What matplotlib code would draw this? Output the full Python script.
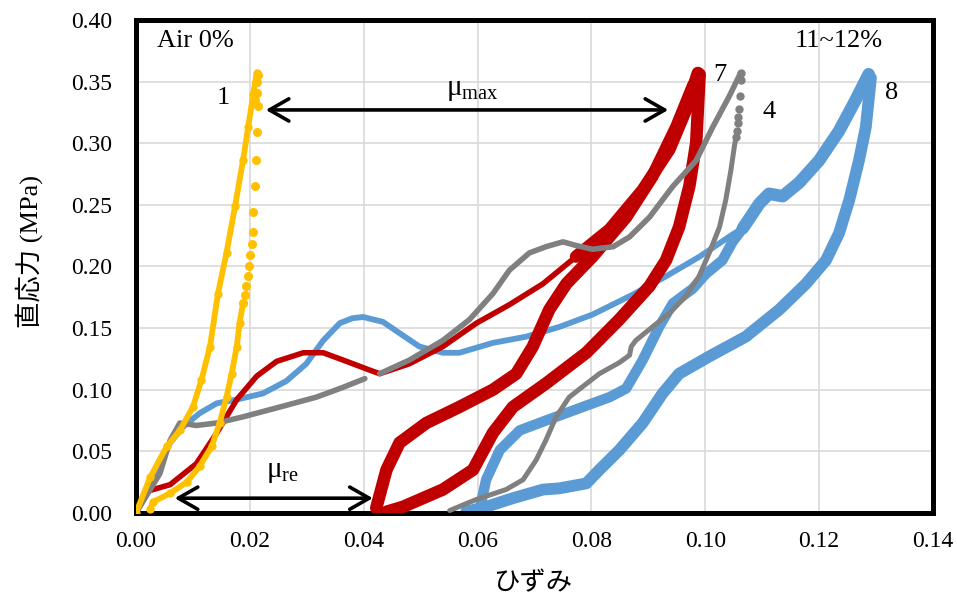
import matplotlib
matplotlib.use("Agg")
import matplotlib.pyplot as plt

plt.rcParams['font.family'] = ['Liberation Serif', 'Noto Sans CJK JP']
plt.rcParams['mathtext.fontset'] = 'custom'
plt.rcParams['mathtext.rm'] = 'Liberation Serif'
plt.rcParams['lines.solid_joinstyle'] = 'round'
plt.rcParams['lines.solid_capstyle'] = 'round'

# specimen 1 (Air 0%)
s1_load_x = [0.0, 0.0025, 0.0054, 0.0077, 0.0100, 0.0115, 0.0130, 0.0144, 0.0159, 0.0174, 0.0188, 0.0197, 0.0206, 0.0212]
s1_load_y = [0.0, 0.029, 0.054, 0.067, 0.086, 0.108, 0.135, 0.178, 0.211, 0.249, 0.286, 0.313, 0.340, 0.357]
s1_dots_x = [0.0215, 0.0213, 0.0212, 0.0209, 0.0215, 0.0213, 0.0211, 0.0209, 0.0206, 0.0205, 0.0203, 0.0201, 0.0199, 0.0196, 0.0194, 0.0191, 0.0188]
s1_dots_y = [0.355, 0.350, 0.341, 0.335, 0.330, 0.309, 0.286, 0.265, 0.244, 0.228, 0.218, 0.209, 0.200, 0.192, 0.184, 0.177, 0.170]
s1_unload_x = [0.0188, 0.0182, 0.0177, 0.0168, 0.0159, 0.0147, 0.0133, 0.0112, 0.0089, 0.0060, 0.0030, 0.0025]
s1_unload_y = [0.170, 0.154, 0.135, 0.113, 0.094, 0.073, 0.054, 0.038, 0.025, 0.016, 0.009, 0.003]

# specimen 7
s7_load_x = [0.0015, 0.0060, 0.0106, 0.0142, 0.0177, 0.0212, 0.0247, 0.0294, 0.0329, 0.0370, 0.0410, 0.0428, 0.0480,
             0.0539, 0.0598, 0.0656, 0.0715, 0.0773]
s7_load_y = [0.017, 0.023, 0.040, 0.065, 0.092, 0.111, 0.123, 0.130, 0.130, 0.123, 0.116, 0.113, 0.121,
             0.135, 0.154, 0.169, 0.186, 0.208]
s7_top_x = [0.0773, 0.0832, 0.0890, 0.0937, 0.0966, 0.0987]
s7_top_y = [0.208, 0.230, 0.262, 0.295, 0.327, 0.357]
s7_unload_x = [0.0990, 0.0984, 0.0972, 0.0954, 0.0931, 0.0902, 0.0849, 0.0791, 0.0720, 0.0662, 0.0627, 0.0592, 0.0539, 0.0469, 0.0440]
s7_unload_y = [0.355, 0.300, 0.265, 0.232, 0.205, 0.184, 0.157, 0.130, 0.105, 0.086, 0.065, 0.035, 0.019, 0.005, 0.001]
s7_reload_x = [0.0422, 0.0440, 0.0463, 0.0510, 0.0568, 0.0627, 0.0668, 0.0697, 0.0726, 0.0756, 0.0802, 0.0861, 0.0907, 0.0949, 0.0978, 0.0990]
s7_reload_y = [0.004, 0.035, 0.057, 0.073, 0.086, 0.100, 0.113, 0.135, 0.165, 0.186, 0.208, 0.240, 0.273, 0.313, 0.346, 0.356]

# specimen 4
s4_load1_x = [0.0, 0.0042, 0.0060, 0.0077, 0.0106, 0.0142, 0.0188, 0.0253, 0.0317, 0.0364, 0.0402]
s4_load1_y = [0.0, 0.032, 0.059, 0.073, 0.071, 0.073, 0.078, 0.086, 0.094, 0.102, 0.109]
s4_load2_x = [0.0428, 0.0480, 0.0539, 0.0586, 0.0627, 0.0656, 0.0691, 0.0720, 0.0750, 0.0773, 0.0802, 0.0838,
              0.0867, 0.0902, 0.0943, 0.0984, 0.1013, 0.1042, 0.1062]
s4_load2_y = [0.113, 0.124, 0.140, 0.157, 0.178, 0.197, 0.211, 0.216, 0.220, 0.217, 0.214, 0.216,
              0.224, 0.240, 0.265, 0.286, 0.313, 0.338, 0.357]
s4_dots_x = [0.1063, 0.1063, 0.1061, 0.1060, 0.1058, 0.1057, 0.1055, 0.1054]
s4_dots_y = [0.357, 0.351, 0.338, 0.328, 0.321, 0.316, 0.310, 0.305]
s4_unload_x = [0.1054, 0.1051, 0.1045, 0.1036, 0.1025, 0.1007, 0.0989, 0.0966, 0.0937, 0.0902, 0.0878, 0.0870, 0.0867,
               0.0849, 0.0814, 0.0761, 0.0738, 0.0720, 0.0703, 0.0680, 0.0650, 0.0598, 0.0551]
s4_unload_y = [0.305, 0.297, 0.278, 0.254, 0.232, 0.211, 0.192, 0.176, 0.162, 0.149, 0.140, 0.135, 0.128,
               0.122, 0.113, 0.094, 0.078, 0.059, 0.043, 0.027, 0.019, 0.011, 0.002]

# specimen 8
s8_load_x = [0.0, 0.0036, 0.0060, 0.0083, 0.0112, 0.0142, 0.0177, 0.0223, 0.0264, 0.0299, 0.0329, 0.0358, 0.0380, 0.0399,
             0.0434, 0.0469, 0.0498, 0.0539, 0.0568, 0.0627, 0.0685, 0.0744, 0.0802, 0.0872, 0.0931, 0.0990, 0.1048, 0.1066]
s8_load_y = [0.0, 0.035, 0.057, 0.070, 0.081, 0.089, 0.092, 0.097, 0.107, 0.121, 0.140, 0.154, 0.158, 0.159,
             0.155, 0.144, 0.135, 0.130, 0.130, 0.138, 0.143, 0.151, 0.161, 0.177, 0.192, 0.208, 0.226, 0.231]
s8_top_x = [0.1066, 0.1095, 0.1112, 0.1136, 0.1165, 0.1200, 0.1235, 0.1264, 0.1287]
s8_top_y = [0.231, 0.251, 0.259, 0.257, 0.268, 0.286, 0.310, 0.335, 0.356]
s8_unload_x = [0.1291, 0.1282, 0.1270, 0.1253, 0.1235, 0.1212, 0.1177, 0.1130, 0.1071, 0.1007, 0.0954, 0.0925,
               0.0890, 0.0849, 0.0814, 0.0791, 0.0744, 0.0715, 0.0662, 0.0615, 0.0580]
s8_unload_y = [0.353, 0.313, 0.286, 0.254, 0.227, 0.205, 0.186, 0.165, 0.143, 0.127, 0.113, 0.097,
               0.073, 0.051, 0.035, 0.024, 0.020, 0.019, 0.012, 0.005, 0.001]
s8_reload_x = [0.0604, 0.0615, 0.0639, 0.0674, 0.0720, 0.0773, 0.0832, 0.0861, 0.0890, 0.0919, 0.0943, 0.0978,
               0.1001, 0.1030, 0.1048, 0.1066]
s8_reload_y = [0.003, 0.027, 0.051, 0.067, 0.075, 0.084, 0.094, 0.101, 0.124, 0.151, 0.170, 0.182,
               0.194, 0.205, 0.220, 0.231]

gold = '#FFC000'
red = '#C00000'
gray = '#808080'
blue = '#5B9BD5'

fig = plt.figure(figsize=(9.57, 6.05), dpi=100)
ax = fig.add_axes([0.1421, 0.1521, 0.8328, 0.8149])

# blue loops
ax.plot(s8_load_x, s8_load_y, color=blue, lw=4.2, zorder=2)
ax.plot(s8_reload_x, s8_reload_y, color=blue, lw=7.5, zorder=2)
ax.plot(s8_unload_x, s8_unload_y, color=blue, lw=8.5, zorder=2)
ax.plot(s8_top_x, s8_top_y, color=blue, lw=9, zorder=2)

# red loops
ax.plot(s7_load_x, s7_load_y, color=red, lw=4, zorder=3)
ax.plot(s7_top_x, s7_top_y, color=red, lw=9, zorder=3)
ax.plot(s7_unload_x, s7_unload_y, color=red, lw=9, zorder=3)
ax.plot(s7_reload_x, s7_reload_y, color=red, lw=9, zorder=3)

# gray curve
ax.plot(s4_load1_x, s4_load1_y, color=gray, lw=4, zorder=4)
ax.plot(s4_load2_x, s4_load2_y, color=gray, lw=4, zorder=4)
ax.plot(s4_unload_x, s4_unload_y, color=gray, lw=3.6, zorder=4)
ax.plot(s4_dots_x, s4_dots_y, 'o', color=gray, ms=5, zorder=4)

# yellow curve
ax.plot(s1_load_x, s1_load_y, color=gold, lw=4.2, marker='o', ms=5, zorder=5)
ax.plot(s1_unload_x, s1_unload_y, color=gold, lw=4.2, marker='o', ms=5, zorder=5)
ax.plot(s1_dots_x, s1_dots_y, 'o', color=gold, ms=5.5, zorder=5)

ax.set_xlim(0, 0.14)
ax.set_ylim(0, 0.40)
ax.set_xticks([0.00, 0.02, 0.04, 0.06, 0.08, 0.10, 0.12, 0.14])
ax.set_yticks([0.00, 0.05, 0.10, 0.15, 0.20, 0.25, 0.30, 0.35, 0.40])
ax.xaxis.set_major_formatter(matplotlib.ticker.FormatStrFormatter('%.2f'))
ax.yaxis.set_major_formatter(matplotlib.ticker.FormatStrFormatter('%.2f'))
ax.tick_params(length=0, labelsize=17)
ax.tick_params(axis='y', pad=17)
ax.tick_params(axis='x', pad=13)
ax.grid(True, color='#D9D9D9', lw=1.2, zorder=0)
ax.set_axisbelow(True)
for sp in ax.spines.values():
    sp.set_linewidth(3.6)
    sp.set_color('black')

ax.set_xlabel('ひずみ', fontsize=19, family=['Noto Sans CJK JP'])
ax.set_ylabel('直応力 (MPa)', fontsize=19, family=['Liberation Serif', 'Noto Sans CJK JP'])
ax.yaxis.set_label_coords(-0.117, 0.531)
ax.xaxis.set_label_coords(0.498, -0.115)

# annotations
ax.text(0.0037, 0.383, 'Air 0%', fontsize=19, va='center', ha='left')
ax.text(0.1235, 0.383, '11~12%', fontsize=19, va='center', ha='center')
ax.text(0.0154, 0.337, '1', fontsize=19, va='center', ha='center')
ax.text(0.1025, 0.355, '7', fontsize=19, va='center', ha='center')
ax.text(0.1112, 0.325, '4', fontsize=19, va='center', ha='center')
ax.text(0.1328, 0.341, '8', fontsize=19, va='center', ha='center')

ax.annotate('', xy=(0.0935, 0.327), xytext=(0.0228, 0.327),
            arrowprops=dict(arrowstyle='<->,head_length=0.7,head_width=0.4', lw=2.6, color='black',
                            shrinkA=0, shrinkB=0, mutation_scale=20), zorder=6)
ax.annotate('', xy=(0.0416, 0.012), xytext=(0.0068, 0.012),
            arrowprops=dict(arrowstyle='<->,head_length=0.7,head_width=0.4', lw=2.6, color='black',
                            shrinkA=0, shrinkB=0, mutation_scale=20), zorder=6)
ax.text(0.0591, 0.343, r'$\mathrm{μ}_{\mathrm{max}}$', fontsize=21, va='center', ha='center')
ax.text(0.0258, 0.033, r'$\mathrm{μ}_{\mathrm{re}}$', fontsize=21, va='center', ha='center')

fig.savefig('out.png', dpi=100)
